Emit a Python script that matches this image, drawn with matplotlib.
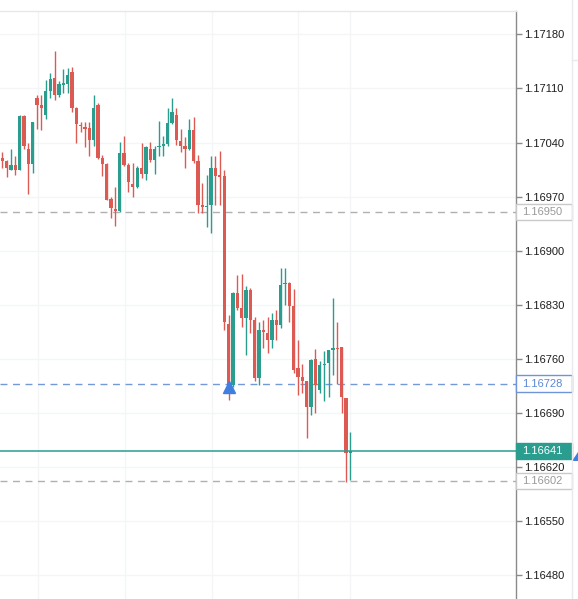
import matplotlib
matplotlib.use("Agg")
import matplotlib.pyplot as plt
import matplotlib.transforms as mtransforms
from matplotlib.patches import Rectangle, Polygon
import numpy as np

# ---------------- data ----------------
opens = [1.17020, 1.17016, 1.17005, 1.17011, 1.17005, 1.17074, 1.17032, 1.17012, 1.17097, 1.17088,
         1.17076, 1.17107, 1.17124, 1.17102, 1.17115, 1.17116, 1.17131, 1.17084, 1.17063, 1.17059,
         1.17059, 1.17043, 1.17089, 1.17020, 1.17012, 1.16967, 1.16954, 1.16951, 1.17026, 1.17011,
         1.16986, 1.16983, 1.17007, 1.16999, 1.17032, 1.17017, 1.17034, 1.17035, 1.17038, 1.17065,
         1.17076, 1.17042, 1.17035, 1.17032, 1.17056, 1.17016, 1.16959, 1.16956, 1.16959, 1.17007,
         1.16997, 1.16997, 1.16805, 1.16726, 1.16845, 1.16826, 1.16813, 1.16849, 1.16810, 1.16735,
         1.16797, 1.16794, 1.16784, 1.16810, 1.16804, 1.16857, 1.16858, 1.16828, 1.16748, 1.16737,
         1.16731, 1.16698, 1.16760, 1.16720, 1.16752, 1.16755, 1.16772, 1.16774, 1.16775, 1.16709,
         1.16638]
highs = [1.17028, 1.17018, 1.17031, 1.17022, 1.17076, 1.17076, 1.17040, 1.17067, 1.17101, 1.17101,
         1.17121, 1.17130, 1.17158, 1.17119, 1.17135, 1.17136, 1.17138, 1.17086, 1.17067, 1.17067,
         1.17066, 1.17101, 1.17091, 1.17024, 1.17013, 1.16970, 1.16982, 1.17041, 1.17048, 1.17013,
         1.17013, 1.17009, 1.17039, 1.17036, 1.17041, 1.17035, 1.17068, 1.17048, 1.17084, 1.17098,
         1.17084, 1.17057, 1.17047, 1.17071, 1.17073, 1.17024, 1.16988, 1.16998, 1.17022, 1.17022,
         1.17029, 1.17004, 1.16817, 1.16846, 1.16869, 1.16870, 1.16854, 1.16852, 1.16814, 1.16808,
         1.16810, 1.16814, 1.16819, 1.16823, 1.16878, 1.16878, 1.16859, 1.16850, 1.16784, 1.16753,
         1.16731, 1.16760, 1.16773, 1.16757, 1.16770, 1.16772, 1.16839, 1.16808, 1.16775, 1.16709,
         1.16665]
lows = [1.17007, 1.16995, 1.17004, 1.16998, 1.17004, 1.17032, 1.16974, 1.17000, 1.17058, 1.17056,
        1.17071, 1.17097, 1.17095, 1.17099, 1.17104, 1.17104, 1.17079, 1.17039, 1.17054, 1.17034,
        1.17023, 1.17035, 1.17019, 1.16997, 1.16965, 1.16942, 1.16932, 1.16950, 1.17009, 1.16976,
        1.16970, 1.16981, 1.16994, 1.16992, 1.17015, 1.16999, 1.17022, 1.17023, 1.17036, 1.17064,
        1.17037, 1.17028, 1.17007, 1.17030, 1.17013, 1.16949, 1.16949, 1.16931, 1.16923, 1.16959,
        1.16959, 1.16797, 1.16707, 1.16724, 1.16823, 1.16801, 1.16765, 1.16794, 1.16732, 1.16726,
        1.16774, 1.16768, 1.16774, 1.16784, 1.16800, 1.16830, 1.16808, 1.16742, 1.16713, 1.16716,
        1.16658, 1.16687, 1.16690, 1.16716, 1.16706, 1.16711, 1.16739, 1.16727, 1.16690, 1.16601,
        1.16603]
closes = [1.17016, 1.17007, 1.17011, 1.17005, 1.17074, 1.17036, 1.17012, 1.17066, 1.17088, 1.17084,
          1.17107, 1.17122, 1.17101, 1.17116, 1.17116, 1.17127, 1.17084, 1.17064, 1.17061, 1.17058,
          1.17043, 1.17084, 1.17020, 1.17012, 1.16966, 1.16955, 1.16951, 1.17026, 1.17011, 1.16989,
          1.16983, 1.17007, 1.16999, 1.17034, 1.17017, 1.17032, 1.17036, 1.17038, 1.17065, 1.17079,
          1.17043, 1.17035, 1.17032, 1.17056, 1.17016, 1.16959, 1.16957, 1.16958, 1.17007, 1.16997,
          1.16996, 1.16808, 1.16726, 1.16845, 1.16826, 1.16813, 1.16849, 1.16810, 1.16735, 1.16797,
          1.16795, 1.16784, 1.16810, 1.16804, 1.16856, 1.16858, 1.16828, 1.16746, 1.16737, 1.16731,
          1.16698, 1.16759, 1.16726, 1.16752, 1.16754, 1.16771, 1.16773, 1.16773, 1.16711, 1.16638,
          1.16641]

price_ticks = [1.17180, 1.17110, 1.17040, 1.16970, 1.16900, 1.16830, 1.16760, 1.16690, 1.16620, 1.16550, 1.16480]
level_gray_1 = 1.16950
level_blue = 1.16728
level_last = 1.16641
level_gray_2 = 1.16602
marker_bar = 52           # index of candle with the blue up-arrow marker
marker_price = 1.16724

# ---------------- style ----------------
UP = "#2a9d8f"
DOWN = "#dc5a52"
BLUE = "#3f7fe0"
W, H = 578, 599
fig = plt.figure(figsize=(W / 100, H / 100), dpi=100)
ax_left, ax_right, ax_top, ax_bottom = 0, 516, 11, 599
ax = fig.add_axes([ax_left / W, 1 - ax_bottom / H, (ax_right - ax_left) / W, (ax_bottom - ax_top) / H])

o = np.array(opens); h = np.array(highs); l = np.array(lows); c = np.array(closes)
x = np.arange(len(o))
up = c >= o
cols = np.where(up, UP, DOWN)

ax.set_xlim(-0.54, 118.1)
ax.set_ylim(1.1644933, 1.1721015)

# grid
ax.set_yticks(price_ticks)
ax.set_yticklabels([f"{t:.5f}" for t in price_ticks])
vgrid = [8.2, 28.2, 48.2, 68.0, 79.9]
ax.set_xticks(vgrid)
ax.set_xticklabels([])
ax.tick_params(axis="x", length=0)
ax.grid(True, color="#f4f5f7", linewidth=1.0, zorder=0)
ax.set_axisbelow(True)

# wicks & bodies
ax.vlines(x, l, h, colors=cols, linewidth=1.0, zorder=3)
body_bottom = np.minimum(o, c)
body_h = np.maximum(np.abs(c - o), 0.000016)
ax.bar(x, body_h, bottom=body_bottom, width=0.76, color=cols, linewidth=0, zorder=4)

# horizontal levels
ax.axhline(level_gray_1, color="#b0b0b0", linewidth=1.0, dashes=(5, 4), zorder=2)
ax.axhline(level_blue, color="#7499d8", linewidth=1.0, dashes=(5, 4), zorder=2)
ax.axhline(level_gray_2, color="#b0b0b0", linewidth=1.0, dashes=(5, 4), zorder=2)
ax.axhline(level_last, color=UP, linewidth=1.1, zorder=5)

# marker
ax.plot([marker_bar], [marker_price], marker="^", markersize=8.5, color=BLUE, zorder=6, linestyle="none")

# spines / right axis
for s in ["left", "bottom"]:
    ax.spines[s].set_visible(False)
ax.spines["top"].set_color("#e6e8eb")
ax.spines["top"].set_linewidth(1.0)
ax.spines["right"].set_color("#8a8a8a")
ax.spines["right"].set_linewidth(1.0)
ax.yaxis.tick_right()
ax.tick_params(axis="y", direction="out", length=4, width=1, color="#8a8a8a",
               labelsize=8, labelcolor="#1e1e1e", pad=2)
for lab in ax.get_yticklabels():
    lab.set_fontfamily("Liberation Sans")

# price boxes on the scale
trans = mtransforms.blended_transform_factory(ax.transAxes, ax.transData)
box_w = 56 / (ax_right - ax_left)
box_h = 16.5 / 77285

def price_box(price, face, edge, tcolor):
    ax.add_patch(Rectangle((1.0, price - box_h / 2), box_w, box_h, transform=trans,
                           facecolor=face, edgecolor=edge, linewidth=1.0, clip_on=False, zorder=10))
    ax.text(1.0 + 6 / 516, price, f"{price:.5f}", transform=trans, ha="left", va="center",
            fontsize=8, color=tcolor, family="Liberation Sans", clip_on=False, zorder=11)

price_box(level_gray_1, "white", "#c9c9c9", "#9a9a9a")
price_box(level_blue, "white", "#6f95d8", "#5b88d2")
price_box(level_gray_2, "white", "#c9c9c9", "#9a9a9a")
price_box(level_last, UP, UP, "white")

# right panel edge and small blue arrow
fig.add_artist(plt.Line2D([572 / W, 572 / W], [0, 1], color="#e8eaed", linewidth=1.0))
fig.add_artist(plt.Line2D([572 / W, 1], [1 - 60 / H, 1 - 60 / H], color="#e8eaed", linewidth=1.0))
fig.add_artist(Polygon([[572 / W, 1 - 461 / H], [578 / W, 1 - 452 / H], [578 / W, 1 - 461 / H]],
                       closed=True, facecolor=BLUE, edgecolor="none", transform=fig.transFigure))

fig.savefig("out.png", dpi=100, facecolor="white")
